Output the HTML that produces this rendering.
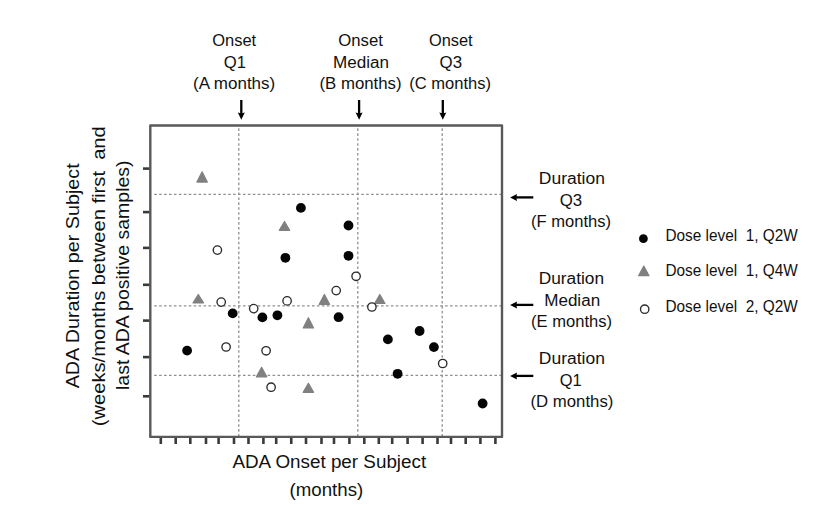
<!DOCTYPE html>
<html><head><meta charset="utf-8"><style>
html,body{margin:0;padding:0;background:#fff;width:816px;height:505px;overflow:hidden}
svg{display:block;font-family:"Liberation Sans", sans-serif;fill:#111}
text{stroke:#111;stroke-width:0}
.dot{stroke:#909090;stroke-width:1.3;stroke-dasharray:2.6 2.33;fill:none}
.dv{stroke-dashoffset:3.56}
.dh{stroke-dashoffset:2.53}
.tick{stroke:#3a3a3a;stroke-width:2.6}
.frame{fill:none;stroke:#595959;stroke-width:2.4;stroke-linejoin:round}
.tri{fill:#808080;stroke:#808080;stroke-width:1.2;stroke-linejoin:round}
.oc{fill:#fff;stroke:#2a2a2a;stroke-width:1.35}
.bc{fill:#050505}
.arr{stroke:#000;stroke-width:2.3}
.ah{fill:#000}
</style></head><body>
<svg width="816" height="505" viewBox="0 0 816 505">
<line x1="238.8" y1="127.0" x2="238.8" y2="435.9" class="dot dv"/>
<line x1="357.8" y1="127.0" x2="357.8" y2="435.9" class="dot dv"/>
<line x1="442.2" y1="127.0" x2="442.2" y2="435.9" class="dot dv"/>
<line x1="151.8" y1="194.3" x2="501.0" y2="194.3" class="dot dh"/>
<line x1="151.8" y1="305.85" x2="501.0" y2="305.85" class="dot dh"/>
<line x1="151.8" y1="375.35" x2="501.0" y2="375.35" class="dot dh"/>
<line x1="143" y1="168.6" x2="150.3" y2="168.6" class="tick"/>
<line x1="143" y1="212.1" x2="150.3" y2="212.1" class="tick"/>
<line x1="143" y1="247.9" x2="150.3" y2="247.9" class="tick"/>
<line x1="143" y1="284.8" x2="150.3" y2="284.8" class="tick"/>
<line x1="143" y1="320.6" x2="150.3" y2="320.6" class="tick"/>
<line x1="143" y1="357.1" x2="150.3" y2="357.1" class="tick"/>
<line x1="143" y1="396.3" x2="150.3" y2="396.3" class="tick"/>
<line x1="160.80" y1="436.9" x2="160.80" y2="444" class="tick"/>
<line x1="175.70" y1="436.9" x2="175.70" y2="444" class="tick"/>
<line x1="190.30" y1="436.9" x2="190.30" y2="444" class="tick"/>
<line x1="206.00" y1="436.9" x2="206.00" y2="444" class="tick"/>
<line x1="218.60" y1="436.9" x2="218.60" y2="444" class="tick"/>
<line x1="234.00" y1="436.9" x2="234.00" y2="444" class="tick"/>
<line x1="248.50" y1="436.9" x2="248.50" y2="444" class="tick"/>
<line x1="263.40" y1="436.9" x2="263.40" y2="444" class="tick"/>
<line x1="276.20" y1="436.9" x2="276.20" y2="444" class="tick"/>
<line x1="291.25" y1="436.9" x2="291.25" y2="444" class="tick"/>
<line x1="306.00" y1="436.9" x2="306.00" y2="444" class="tick"/>
<line x1="321.50" y1="436.9" x2="321.50" y2="444" class="tick"/>
<line x1="334.00" y1="436.9" x2="334.00" y2="444" class="tick"/>
<line x1="349.40" y1="436.9" x2="349.40" y2="444" class="tick"/>
<line x1="364.30" y1="436.9" x2="364.30" y2="444" class="tick"/>
<line x1="378.80" y1="436.9" x2="378.80" y2="444" class="tick"/>
<line x1="392.20" y1="436.9" x2="392.20" y2="444" class="tick"/>
<line x1="407.60" y1="436.9" x2="407.60" y2="444" class="tick"/>
<line x1="422.60" y1="436.9" x2="422.60" y2="444" class="tick"/>
<line x1="437.50" y1="436.9" x2="437.50" y2="444" class="tick"/>
<line x1="451.00" y1="436.9" x2="451.00" y2="444" class="tick"/>
<line x1="465.70" y1="436.9" x2="465.70" y2="444" class="tick"/>
<line x1="480.40" y1="436.9" x2="480.40" y2="444" class="tick"/>
<line x1="495.40" y1="436.9" x2="495.40" y2="444" class="tick"/>
<path d="M150.3 125.5H502.0V436.9H150.3Z" class="frame"/>
<path d="M202.10 171.80L207.30 182.10L196.90 182.10Z" class="tri"/>
<path d="M284.50 221.50L289.70 230.30L279.30 230.30Z" class="tri"/>
<path d="M198.30 294.50L203.50 302.90L193.10 302.90Z" class="tri"/>
<path d="M324.40 294.50L329.60 304.30L319.20 304.30Z" class="tri"/>
<path d="M379.80 294.50L385.00 303.50L374.60 303.50Z" class="tri"/>
<path d="M308.40 317.70L313.60 328.00L303.20 328.00Z" class="tri"/>
<path d="M261.60 367.30L266.80 376.90L256.40 376.90Z" class="tri"/>
<path d="M308.40 383.30L313.60 392.30L303.20 392.30Z" class="tri"/>
<circle cx="217.4" cy="250.1" r="4.2" class="oc"/>
<circle cx="221.2" cy="302.1" r="4.2" class="oc"/>
<circle cx="253.7" cy="308.6" r="4.2" class="oc"/>
<circle cx="287.1" cy="300.9" r="4.2" class="oc"/>
<circle cx="226.1" cy="347" r="4.2" class="oc"/>
<circle cx="266.1" cy="350.8" r="4.2" class="oc"/>
<circle cx="271.1" cy="387.2" r="4.2" class="oc"/>
<circle cx="356.1" cy="276.3" r="4.2" class="oc"/>
<circle cx="336.2" cy="290.6" r="4.2" class="oc"/>
<circle cx="371.9" cy="307" r="4.2" class="oc"/>
<circle cx="442.7" cy="363.5" r="4.2" class="oc"/>
<circle cx="300.9" cy="207.9" r="4.9" class="bc"/>
<circle cx="348.5" cy="225.5" r="4.9" class="bc"/>
<circle cx="348.5" cy="255.8" r="4.9" class="bc"/>
<circle cx="285.4" cy="257.8" r="4.9" class="bc"/>
<circle cx="232.7" cy="313.4" r="4.9" class="bc"/>
<circle cx="262.4" cy="317.4" r="4.9" class="bc"/>
<circle cx="277.4" cy="315.3" r="4.9" class="bc"/>
<circle cx="338.6" cy="317.2" r="4.9" class="bc"/>
<circle cx="187.1" cy="350.6" r="4.9" class="bc"/>
<circle cx="387.9" cy="339.4" r="4.9" class="bc"/>
<circle cx="419.6" cy="331" r="4.9" class="bc"/>
<circle cx="433.9" cy="347.1" r="4.9" class="bc"/>
<circle cx="397.6" cy="373.8" r="4.9" class="bc"/>
<circle cx="482.6" cy="403.5" r="4.9" class="bc"/>
<circle cx="643.4" cy="238.7" r="4.4" class="bc"/>
<path d="M643.80 266.10L649.00 275.70L638.60 275.70Z" class="tri"/>
<circle cx="644.7" cy="309.2" r="4.2" class="oc"/>
<line x1="241.3" y1="100" x2="241.3" y2="114" class="arr"/>
<path d="M237.8 112.6L241.3 113.4L244.8 112.6L241.3 119.8Z" class="ah"/>
<line x1="359.1" y1="100" x2="359.1" y2="114" class="arr"/>
<path d="M355.6 112.6L359.1 113.4L362.6 112.6L359.1 119.8Z" class="ah"/>
<line x1="442.8" y1="100" x2="442.8" y2="114" class="arr"/>
<path d="M439.3 112.6L442.8 113.4L446.3 112.6L442.8 119.8Z" class="ah"/>
<line x1="516" y1="197.4" x2="533.3" y2="197.4" class="arr"/>
<path d="M517 193.9L516.4 197.4L517 200.9L510.1 197.4Z" class="ah"/>
<line x1="516" y1="304.9" x2="533.3" y2="304.9" class="arr"/>
<path d="M517 301.4L516.4 304.9L517 308.4L510.1 304.9Z" class="ah"/>
<line x1="516" y1="375.9" x2="533.3" y2="375.9" class="arr"/>
<path d="M517 372.4L516.4 375.9L517 379.4L510.1 375.9Z" class="ah"/>
<text x="234.21" y="45.9" font-size="16" text-anchor="middle" textLength="43.98" lengthAdjust="spacingAndGlyphs" xml:space="preserve">Onset</text>
<text x="234.89" y="68.2" font-size="16" text-anchor="middle" textLength="22.22" lengthAdjust="spacingAndGlyphs" xml:space="preserve">Q1</text>
<text x="234.16" y="88.7" font-size="16" text-anchor="middle" textLength="82.12" lengthAdjust="spacingAndGlyphs" xml:space="preserve">(A months)</text>
<text x="360.6" y="45.9" font-size="16" text-anchor="middle" textLength="44.52" lengthAdjust="spacingAndGlyphs" xml:space="preserve">Onset</text>
<text x="361.0" y="68.2" font-size="16" text-anchor="middle" textLength="56.0" lengthAdjust="spacingAndGlyphs" xml:space="preserve">Median</text>
<text x="360.5" y="88.7" font-size="16" text-anchor="middle" textLength="82.12" lengthAdjust="spacingAndGlyphs" xml:space="preserve">(B months)</text>
<text x="450.77" y="45.9" font-size="16" text-anchor="middle" textLength="43.74" lengthAdjust="spacingAndGlyphs" xml:space="preserve">Onset</text>
<text x="450.78" y="68.2" font-size="16" text-anchor="middle" textLength="22.44" lengthAdjust="spacingAndGlyphs" xml:space="preserve">Q3</text>
<text x="450.16" y="88.7" font-size="16" text-anchor="middle" textLength="81.68" lengthAdjust="spacingAndGlyphs" xml:space="preserve">(C months)</text>
<text x="571.89" y="183.8" font-size="16" text-anchor="middle" textLength="66.02" lengthAdjust="spacingAndGlyphs" xml:space="preserve">Duration</text>
<text x="571.0" y="205.9" font-size="16" text-anchor="middle" textLength="22.44" lengthAdjust="spacingAndGlyphs" xml:space="preserve">Q3</text>
<text x="571.0" y="226.5" font-size="16" text-anchor="middle" textLength="80.0" lengthAdjust="spacingAndGlyphs" xml:space="preserve">(F months)</text>
<text x="571.43" y="283.8" font-size="16" text-anchor="middle" textLength="65.34" lengthAdjust="spacingAndGlyphs" xml:space="preserve">Duration</text>
<text x="572.17" y="305.9" font-size="16" text-anchor="middle" textLength="55.9" lengthAdjust="spacingAndGlyphs" xml:space="preserve">Median</text>
<text x="571.55" y="326.5" font-size="16" text-anchor="middle" textLength="80.9" lengthAdjust="spacingAndGlyphs" xml:space="preserve">(E months)</text>
<text x="571.89" y="363.8" font-size="16" text-anchor="middle" textLength="66.02" lengthAdjust="spacingAndGlyphs" xml:space="preserve">Duration</text>
<text x="570.72" y="385.9" font-size="16" text-anchor="middle" textLength="21.88" lengthAdjust="spacingAndGlyphs" xml:space="preserve">Q1</text>
<text x="571.95" y="406.5" font-size="16" text-anchor="middle" textLength="82.78" lengthAdjust="spacingAndGlyphs" xml:space="preserve">(D months)</text>
<text x="731.59" y="241.0" font-size="16" text-anchor="middle" textLength="132.3" lengthAdjust="spacingAndGlyphs" xml:space="preserve">Dose level  1, Q2W</text>
<text x="731.59" y="275.5" font-size="16" text-anchor="middle" textLength="132.3" lengthAdjust="spacingAndGlyphs" xml:space="preserve">Dose level  1, Q4W</text>
<text x="731.59" y="311.8" font-size="16" text-anchor="middle" textLength="132.3" lengthAdjust="spacingAndGlyphs" xml:space="preserve">Dose level  2, Q2W</text>
<text x="329.33" y="467.6" font-size="18" text-anchor="middle" textLength="193.74" lengthAdjust="spacingAndGlyphs" xml:space="preserve">ADA Onset per Subject</text>
<text x="326.39" y="496.0" font-size="18" text-anchor="middle" textLength="73.66" lengthAdjust="spacingAndGlyphs" xml:space="preserve">(months)</text>
<g transform="rotate(-90)">
<text x="-275.84" y="78.5" font-size="18" text-anchor="middle" textLength="224.96" lengthAdjust="spacingAndGlyphs" xml:space="preserve">ADA Duration per Subject</text>
</g>
<g transform="rotate(-90)">
<text x="-276.22" y="104.5" font-size="18" text-anchor="middle" textLength="300.0" lengthAdjust="spacingAndGlyphs" xml:space="preserve">(weeks/months between first  and</text>
</g>
<g transform="rotate(-90)">
<text x="-275.22" y="129.0" font-size="18" text-anchor="middle" textLength="229.56" lengthAdjust="spacingAndGlyphs" xml:space="preserve">last ADA positive samples)</text>
</g>
</svg>
</body></html>
